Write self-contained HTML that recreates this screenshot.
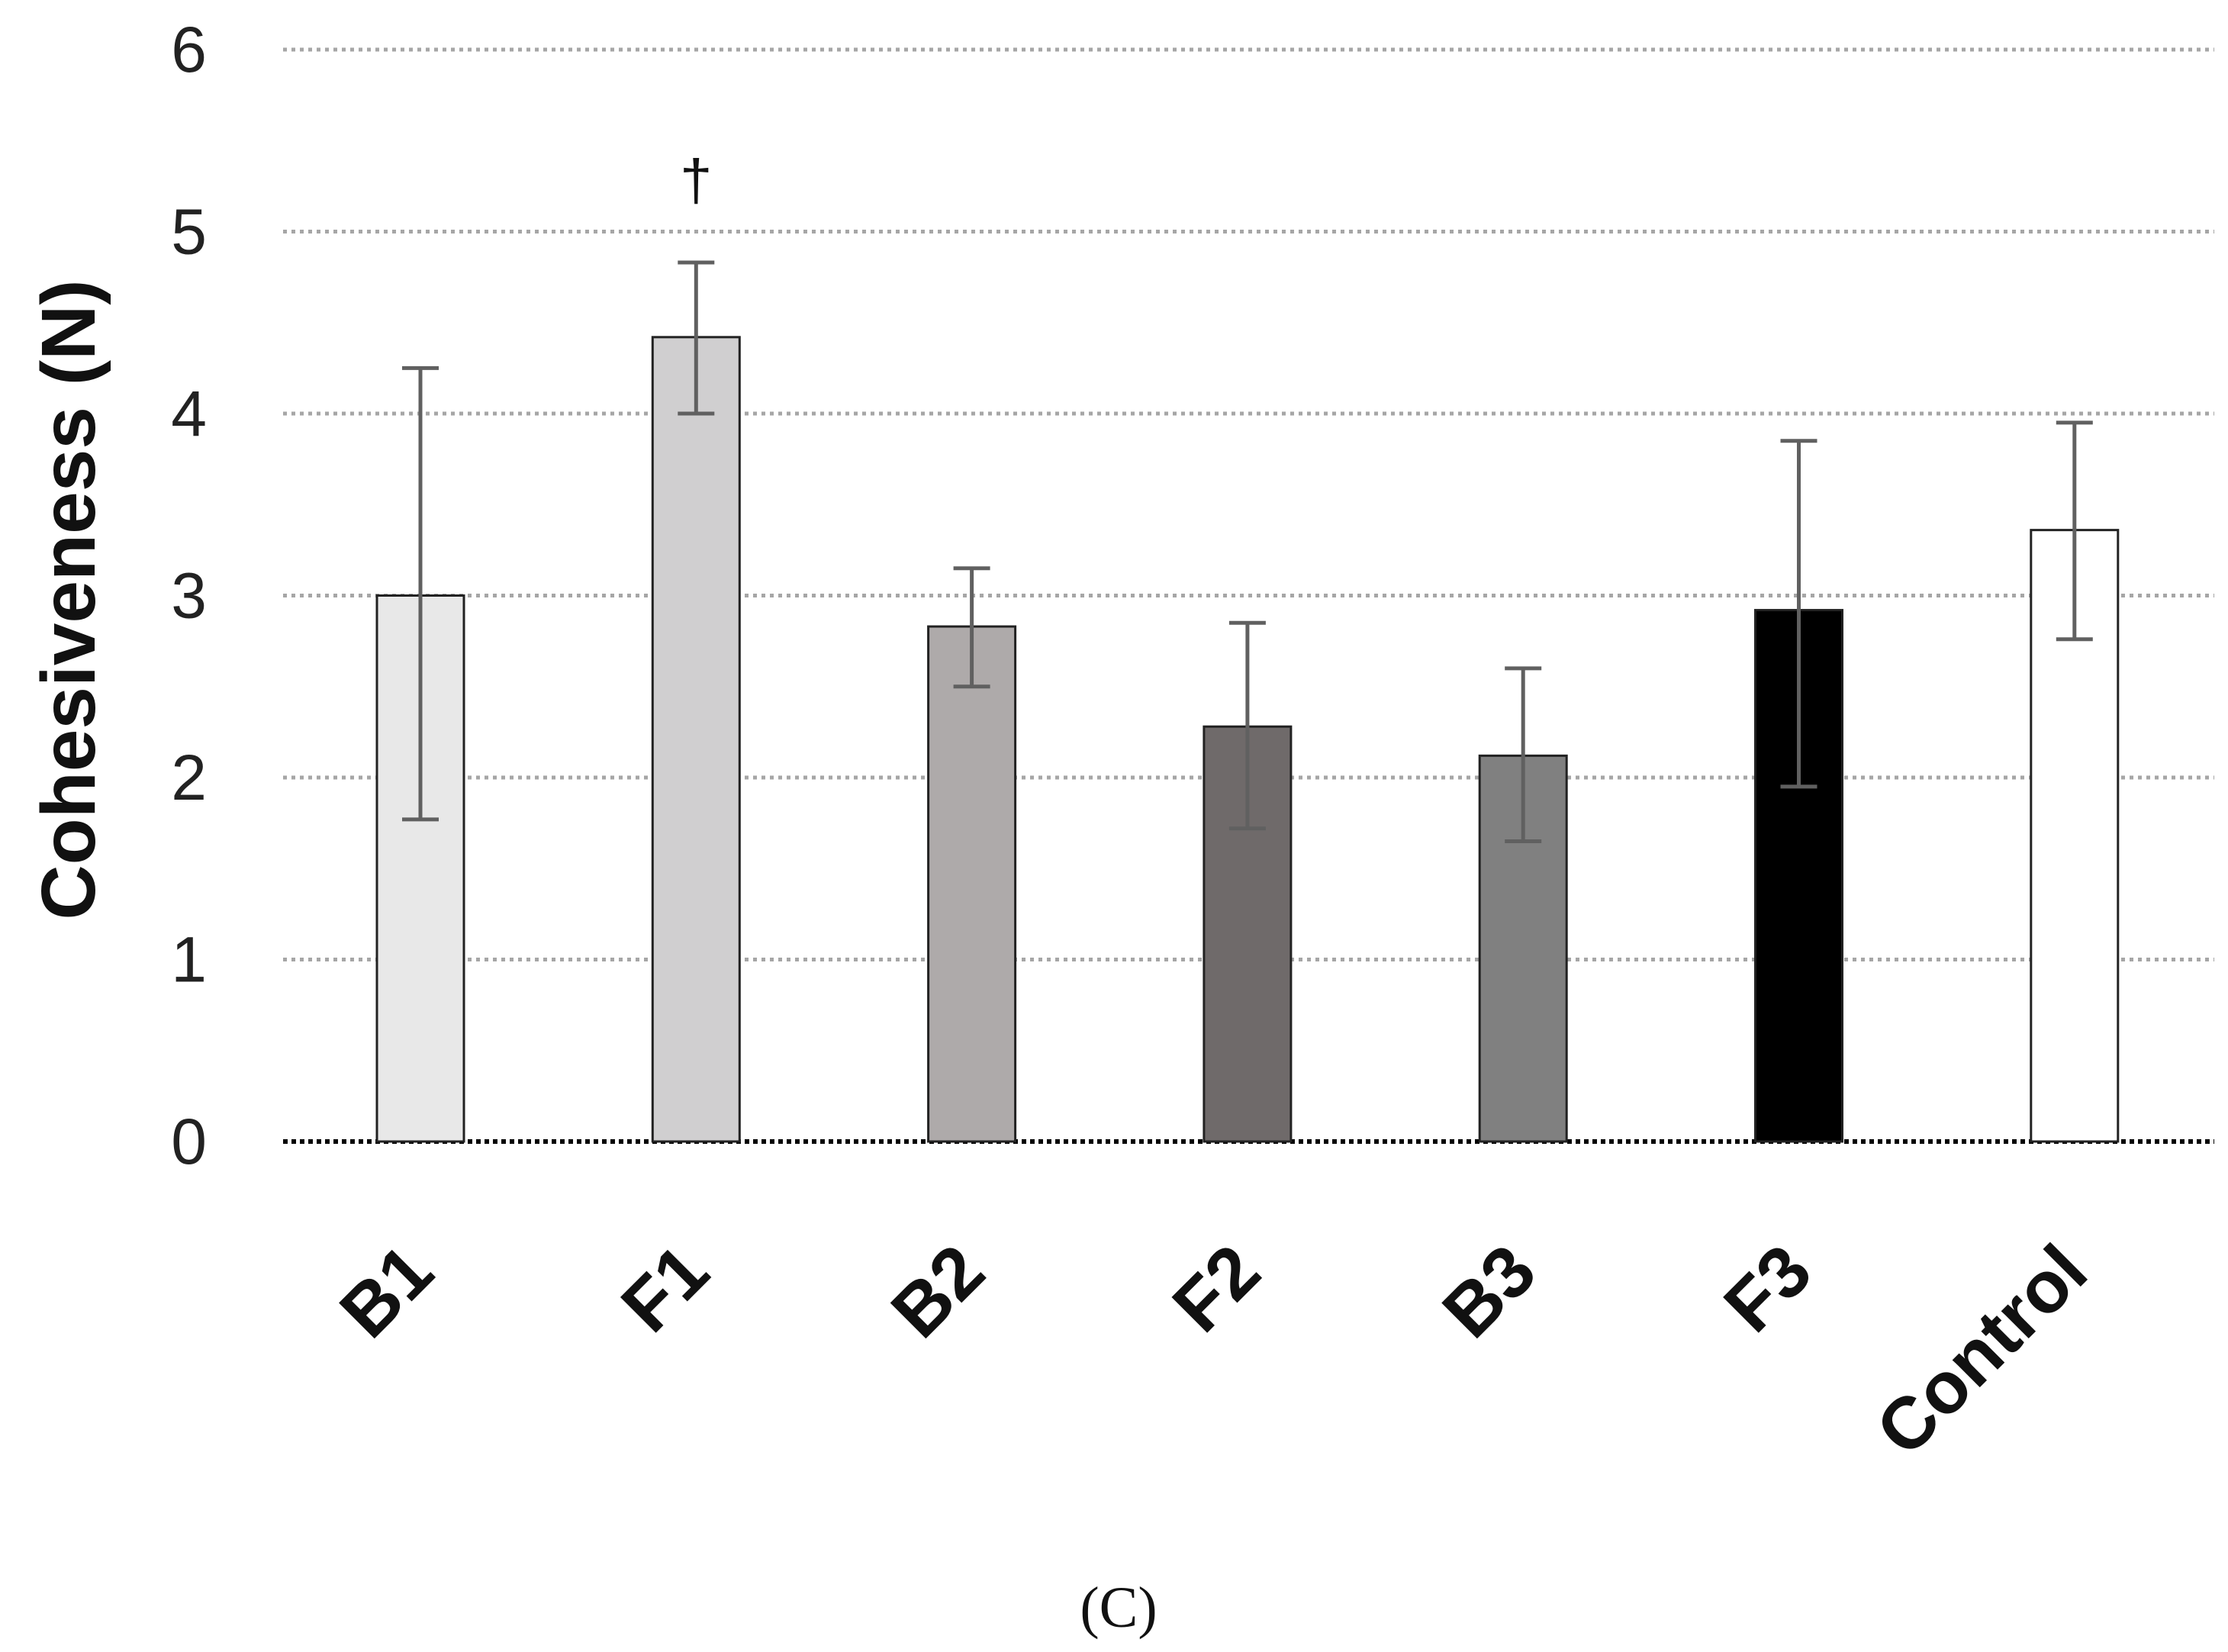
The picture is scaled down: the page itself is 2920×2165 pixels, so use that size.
<!DOCTYPE html>
<html><head><meta charset="utf-8"><style>body{margin:0;background:#fff}svg{display:block}</style></head>
<body>
<svg id="chart" width="2920" height="2165" xmlns="http://www.w3.org/2000/svg"></svg>
<script>
const categories=["B1","F1","B2","F2","B3","F3","Control"];
const values=[3.0,4.42,2.83,2.28,2.12,2.92,3.36];
const errLow=[1.77,4.0,2.5,1.72,1.65,1.95,2.76];
const errHigh=[4.25,4.83,3.15,2.85,2.6,3.85,3.95];
const colors=["#e8e8e8","#d0cfd0","#aeaaaa","#6f6a6a","#808080","#000000","#ffffff"];
const yTicks=[0,1,2,3,4,5,6];
const NS="http://www.w3.org/2000/svg";
const svg=document.getElementById('chart');
const y=v=>1496-v*238.5;
const x=i=>551+i*361.3;
function mk(t,a,p){const e=document.createElementNS(NS,t);for(const k in a)e.setAttribute(k,a[k]);(p||svg).appendChild(e);return e;}
yTicks.forEach(t=>{
 const l=mk('line',{x1:371,x2:2902,y1:y(t),y2:y(t),stroke:t===0?'#000':'#a6a6a6','stroke-width':t===0?6:5,'stroke-dasharray':t===0?'6 5':'5 6'});
 
 
 const tx=mk('text',{x:271,y:y(t)+29,'text-anchor':'end','font-family':'Liberation Sans, sans-serif','font-size':84,fill:'#222'});
 tx.textContent=t;
 
 
});
categories.forEach((c,i)=>{
 const cx=x(i),w=114;
 const b=mk('rect',{x:cx-w/2,y:y(values[i]),width:w,height:y(0)-y(values[i]),fill:colors[i],stroke:'#222','stroke-width':3});
 
 
 const g=mk('g',{stroke:'#606060','stroke-width':5});
 
 
 mk('line',{x1:cx,x2:cx,y1:y(errLow[i]),y2:y(errHigh[i])},g);
 mk('line',{x1:cx-24,x2:cx+24,y1:y(errLow[i]),y2:y(errLow[i])},g);
 mk('line',{x1:cx-24,x2:cx+24,y1:y(errHigh[i]),y2:y(errHigh[i])},g);
 const lx=cx+22,ly=1672;
 const t=mk('text',{x:lx,y:ly,'text-anchor':'end',transform:`rotate(-45 ${lx} ${ly})`,'font-family':'Liberation Sans, sans-serif','font-weight':'bold','font-size':96,fill:'#111'});
 t.textContent=c;
 
 
});
const d=mk('text',{x:x(1),y:262,'text-anchor':'middle','font-family':'Liberation Sans, sans-serif','font-size':76,fill:'#111'});
d.textContent='†';


const yt=mk('text',{x:124,y:786,'text-anchor':'middle',transform:'rotate(-90 124 786)','font-family':'Liberation Sans, sans-serif','font-weight':'bold','font-size':100,fill:'#111'});
yt.textContent='Cohesiveness (N)';


const cap=mk('text',{x:1466,y:2132,'text-anchor':'middle','font-family':'Liberation Serif, serif','font-size':76,fill:'#111'});
cap.textContent='(C)';


</script>
</body></html>
